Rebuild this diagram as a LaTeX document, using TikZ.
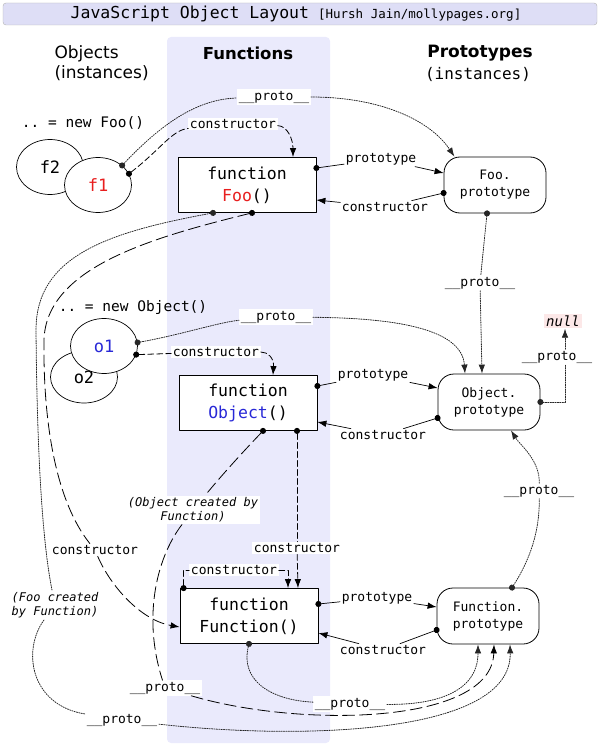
\documentclass[tikz,border=0pt]{standalone}
\usepackage{fontspec}
\setmainfont{DejaVu Sans}
\setsansfont{DejaVu Sans}
\setmonofont{DejaVu Sans Mono}
\usetikzlibrary{arrows.meta,shapes.geometric}
\definecolor{fooRed}{RGB}{232,30,30}
\definecolor{objBlue}{RGB}{40,40,215}
\definecolor{colFill}{RGB}{234,234,252}
\definecolor{titleFill}{RGB}{222,222,246}
\definecolor{nullFill}{RGB}{252,232,232}
\begin{document}
\begin{tikzpicture}[x=1pt,y=-1pt,line cap=round,line join=round,
	fnbox/.style={draw,line width=.8pt,fill=white,minimum width=138pt,minimum height=55pt,align=center,font=\fontsize{16.5}{22}\ttfamily},
	protobox/.style={draw,line width=.8pt,fill=white,rounded corners=16pt,minimum width=102pt,minimum height=56pt,align=center,font=\fontsize{13}{17}\ttfamily},
	inst/.style={draw,line width=.7pt,ellipse,fill=white,minimum width=67pt,minimum height=55pt,font=\fontsize{17}{20}\ttfamily},
	lbl/.style={fill=white,inner sep=1.5pt,font=\fontsize{13}{15}\ttfamily},
	note/.style={fill=white,inner sep=2pt,align=center,font=\fontsize{12}{14}\ttfamily\itshape},
	tail/.style={{Circle[length=6pt]}-,shorten <=-3pt},
	head/.style={-{Latex[length=9pt,width=6.5pt]}},
	link/.style={line width=.7pt},
	proto/.style={line width=.8pt,dash pattern=on 1.2pt off 1.2pt,draw=black!85},
	ctor/.style={line width=.8pt,dash pattern=on 6pt off 3pt},
	longdash/.style={line width=.8pt,dash pattern=on 12pt off 5pt}]
	\useasboundingbox (0,0) rectangle (600,746);
	\draw[rounded corners=3pt,fill=titleFill,draw=black!30] (3,3) rectangle (597,25);
	\node (title) at (296,14) {{\fontsize{16.5}{18}\ttfamily JavaScript Object Layout}\hspace{9pt}{\fontsize{12.5}{14}\ttfamily [Hursh Jain/mollypages.org]}};
	\fill[colFill,rounded corners=4pt] (167,37) rectangle (330,743);
	\node[anchor=west,align=left,font=\fontsize{17}{20}\sffamily] (hobj) at (51,63) {Objects\\(instances)};
	\node[font=\fontsize{16.5}{20}\sffamily\bfseries] (hfn) at (248,53) {Functions};
	\node[font=\fontsize{17}{20}\sffamily\bfseries] (hproto) at (480,53) {Prototypes};
	\node[font=\fontsize{16}{20}\ttfamily] (hinst) at (478,74) {(instances)};
	\node[font=\fontsize{14.5}{17}\ttfamily] (newfoo) at (83,123) {.. = new Foo()};
	\node[font=\fontsize{14.5}{17}\ttfamily] (newobj) at (133,307) {.. = new Object()};

	\node[inst] (f2) at (50,167) {f2};
	\node[inst,text=fooRed] (f1) at (98,185) {f1};
	\node[inst,minimum height=52pt] (o2) at (84,377) {\raisebox{-7pt}{o2}};
	\node[inst,text=objBlue] (o1) at (104,346) {o1};

	\node[fnbox] (foo) at (247,185) {function\\\textcolor{fooRed}{Foo}()};
	\node[fnbox] (obj) at (248,403) {function\\\textcolor{objBlue}{Object}()};
	\node[fnbox] (fn) at (249,616) {function\\Function()};
	\node[protobox] (foop) at (495,185) {Foo.\\prototype};
	\node[protobox] (objp) at (489,402) {Object.\\prototype};
	\node[protobox] (fnp) at (488,616) {Function.\\prototype};
	\node[fill=nullFill,inner sep=2pt,font=\fontsize{14}{16}\ttfamily\itshape] (nullv) at (563,321) {null};

	\node[lbl] (pf1) at (274,97) {\_\_proto\_\_};
	\node[lbl] (cf1) at (233,124) {constructor};
	\node[lbl] (pfoo) at (381,159) {prototype};
	\node[lbl] (cfoo) at (385,207) {constructor};
	\node[lbl] (pfp) at (480,283) {\_\_proto\_\_};
	\node[lbl] (po1) at (276,317) {\_\_proto\_\_};
	\node[lbl] (co1) at (216,352) {constructor};
	\node[lbl] (pobj) at (373,375) {prototype};
	\node[lbl] (cobj) at (383,435) {constructor};
	\node[lbl] (pop) at (557,357) {\_\_proto\_\_};
	\node[lbl] (pfnp) at (539,491) {\_\_proto\_\_};
	\node[note] (ocbf) at (193,510) {(Object created by\\Function)};
	\node[lbl] (cfoofn) at (95,550) {constructor};
	\node[lbl] (cobjfn) at (297,548) {constructor};
	\node[lbl] (cfnself) at (234,570) {constructor};
	\node[note] (fcbf) at (55,605) {(Foo created\\by Function)};
	\node[lbl] (pfn) at (377,598) {prototype};
	\node[lbl] (cfn) at (383,650) {constructor};
	\node[lbl] (pobjfn) at (165,688) {\_\_proto\_\_};
	\node[lbl] (pfnfn) at (350,704) {\_\_proto\_\_};
	\node[lbl] (pfoofn) at (122,720) {\_\_proto\_\_};

	\draw[proto,tail] (f1.39) .. controls (165,120) and (200,99) .. (pf1);
	\draw[proto,head] (pf1) .. controls (380,97) and (430,120) .. (foop.145);
	\draw[ctor,tail] (f1.20) .. controls (160,150) and (172,130) .. (cf1);
	\draw[ctor,head] (cf1) .. controls (288,126) and (293,140) .. ([xshift=46pt]foo.north);
	\draw[link,tail] ([yshift=17pt]foo.east) -- (pfoo);
	\draw[link,head] (pfoo) -- ([yshift=12pt]foop.west);
	\draw[link,tail] ([yshift=-8pt]foop.west) -- (cfoo);
	\draw[link,head] (cfoo) -- ([yshift=-15pt]foo.east);
	\draw[proto,tail] ([xshift=-8pt]foop.south) -- (pfp);
	\draw[proto,head] (pfp) -- ([xshift=-7pt]objp.north);
	\draw[proto,tail] ([xshift=-34pt]foo.south) .. controls (110,232) and (36,255) .. (36,330) .. controls (37,450) and (42,540) .. (fcbf);
	\draw[proto] (fcbf) .. controls (22,650) and (30,705) .. (pfoofn);
	\draw[proto,head] (pfoofn) .. controls (300,740) and (512,735) .. ([xshift=22pt]fnp.south);
	\draw[longdash,tail] ([xshift=5pt]foo.south) .. controls (150,238) and (46,268) .. (44,340) .. controls (43,420) and (55,500) .. (cfoofn);
	\draw[longdash,head] (cfoofn) .. controls (110,585) and (140,620) .. ([yshift=-11pt]fn.west);
	\draw[proto,tail] (o1.6) .. controls (180,335) and (220,322) .. (po1);
	\draw[proto,head] (po1) .. controls (400,318) and (462,330) .. ([xshift=-24pt]objp.north);
	\draw[ctor,tail] (o1.-15) -- (co1);
	\draw[ctor,head] (co1) .. controls (268,352) and (274,358) .. ([xshift=25pt]obj.north);
	\draw[link,tail] ([yshift=17pt]obj.east) -- (pobj);
	\draw[link,head] (pobj) -- ([yshift=14pt]objp.west);
	\draw[link,tail] ([yshift=-16pt]objp.west) -- (cobj);
	\draw[link,head] (cobj) -- ([yshift=-19pt]obj.east);
	\draw[proto,tail] (objp.east) -| ([xshift=8pt]pop.south);
	\draw[proto,head] ([xshift=8pt]pop.north) -- ([xshift=2pt]nullv.south);
	\draw[ctor,tail] ([xshift=49pt]obj.south) -- (cobjfn);
	\draw[ctor,head] (cobjfn) -- ([xshift=49pt]fn.north);
	\draw[longdash,tail] ([xshift=15pt]obj.south) .. controls (240,455) and (222,475) .. (ocbf);
	\draw[longdash] (ocbf) .. controls (155,560) and (143,620) .. (pobjfn);
	\draw[longdash,head] (pobjfn) .. controls (300,728) and (492,725) .. ([xshift=6pt]fnp.south);
	\draw[ctor,tail] ([xshift=4pt]fn.north west) |- (cfnself);
	\draw[ctor,head] (cfnself) -| ([xshift=39pt]fn.north);
	\draw[link,tail] ([yshift=12pt]fn.east) -- (pfn);
	\draw[link,head] (pfn) -- ([yshift=9pt]fnp.west);
	\draw[link,tail] ([yshift=-14pt]fnp.west) -- (cfn);
	\draw[link,head] (cfn) -- ([yshift=-17pt]fn.east);
	\draw[proto,tail] (fn.south) .. controls (240,680) and (270,700) .. (pfnfn);
	\draw[proto,head] (pfnfn) .. controls (440,705) and (478,690) .. ([xshift=-10pt]fnp.south);
	\draw[proto,tail] ([xshift=24pt]fnp.north) .. controls (530,560) and (540,530) .. (pfnp);
	\draw[proto,head] (pfnp) .. controls (540,460) and (520,445) .. ([xshift=22pt]objp.south);
\end{tikzpicture}
\end{document}
